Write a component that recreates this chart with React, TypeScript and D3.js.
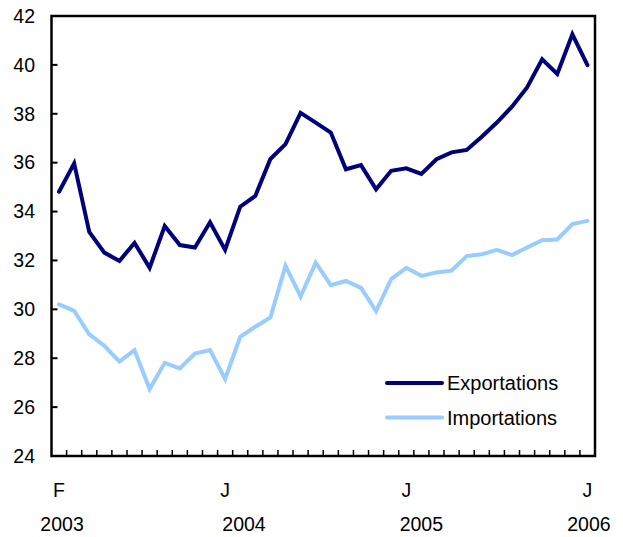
import React from 'react';
import * as d3 from 'd3';

const months = [
  'F03', 'M03', 'A03', 'M03', 'J03', 'J03', 'A03', 'S03', 'O03', 'N03', 'D03',
  'J04', 'F04', 'M04', 'A04', 'M04', 'J04', 'J04', 'A04', 'S04', 'O04', 'N04', 'D04',
  'J05', 'F05', 'M05', 'A05', 'M05', 'J05', 'J05', 'A05', 'S05', 'O05', 'N05', 'D05',
  'J06',
];

const exportations = [
  34.81, 35.97, 33.17, 32.32, 31.98, 32.72, 31.7, 33.41, 32.63, 32.53, 33.56, 32.43,
  34.2, 34.64, 36.15, 36.76, 38.04, 37.64, 37.23, 35.73, 35.9, 34.91, 35.67, 35.77,
  35.54, 36.14, 36.42, 36.52, 37.06, 37.64, 38.29, 39.08, 40.23, 39.63, 41.25, 39.99,
];

const importations = [
  30.2, 29.94, 28.98, 28.51, 27.86, 28.33, 26.74, 27.81, 27.58, 28.19, 28.33, 27.15,
  28.88, 29.29, 29.67, 31.78, 30.52, 31.91, 30.99, 31.16, 30.88, 29.93, 31.24, 31.7,
  31.37, 31.51, 31.58, 32.18, 32.25, 32.43, 32.22, 32.53, 32.83, 32.86, 33.49, 33.62,
];

const yTicks = [24, 26, 28, 30, 32, 34, 36, 38, 40, 42];
const monthLabels = [
  { idx: 0, text: 'F' },
  { idx: 11, text: 'J' },
  { idx: 23, text: 'J' },
  { idx: 35, text: 'J' },
];
const yearLabels = [
  { idx: 0.2, text: '2003' },
  { idx: 12.25, text: '2004' },
  { idx: 24, text: '2005' },
  { idx: 35.1, text: '2006' },
];

const series = [
  { name: 'Exportations', values: exportations, color: '#00007a' },
  { name: 'Importations', values: importations, color: '#99ccff' },
];

export default function App() {
  const width = 623;
  const height = 537;
  const left = 51.5;
  const right = 595;
  const top = 16;
  const bottom = 456;
  const font = 'Liberation Sans, Arial, Helvetica, sans-serif';
  const labelSize = 19.5;

  const x = d3.scaleBand<number>()
    .domain(d3.range(months.length))
    .range([left, right]);
  const y = d3.scaleLinear().domain([24, 42]).range([bottom, top]);
  const cx = (i: number) => left + (i + 0.5) * x.step();

  const line = d3.line<number>()
    .x((_, i) => cx(i))
    .y(d => y(d));

  return (
    <svg width={width} height={height} style={{ position: 'absolute', left: 0, top: 0 }}>
      <rect x={0} y={0} width={width} height={height} fill="#fff" />
      {series.map(s => (
        <path key={s.name} d={line(s.values) || ''} fill="none" stroke={s.color}
          strokeWidth={4} strokeLinejoin="miter" strokeLinecap="round" />
      ))}
      <rect x={left} y={top} width={right - left} height={bottom - top}
        fill="none" stroke="#000" strokeWidth={2.5} />
      {yTicks.map(t => (
        <g key={t}>
          <line x1={left} x2={left + 6} y1={y(t)} y2={y(t)} stroke="#000" strokeWidth={2} />
          <text x={35} y={y(t)} dy="0.35em" textAnchor="end" fontSize={labelSize}
            fontFamily={font} fill="#000">{t}</text>
        </g>
      ))}
      {d3.range(1, months.length).map(i => (
        <line key={i} x1={x(i)} x2={x(i)} y1={bottom} y2={bottom - 6} stroke="#000" strokeWidth={1.5} />
      ))}
      {monthLabels.map(m => (
        <text key={m.idx} x={cx(m.idx)} y={497} textAnchor="middle" fontSize={labelSize}
          fontFamily={font} fill="#000">{m.text}</text>
      ))}
      {yearLabels.map(m => (
        <text key={m.text} x={cx(m.idx)} y={531} textAnchor="middle" fontSize={labelSize}
          fontFamily={font} fill="#000">{m.text}</text>
      ))}
      {series.map((s, i) => (
        <g key={s.name} transform={`translate(0, ${383 + i * 34.5})`}>
          <line x1={387} x2={442} y1={0} y2={0} stroke={s.color} strokeWidth={4} strokeLinecap="round" />
          <text x={447} y={0} dy="0.35em" fontSize={20} fontFamily={font} fill="#000">{s.name}</text>
        </g>
      ))}
    </svg>
  );
}
